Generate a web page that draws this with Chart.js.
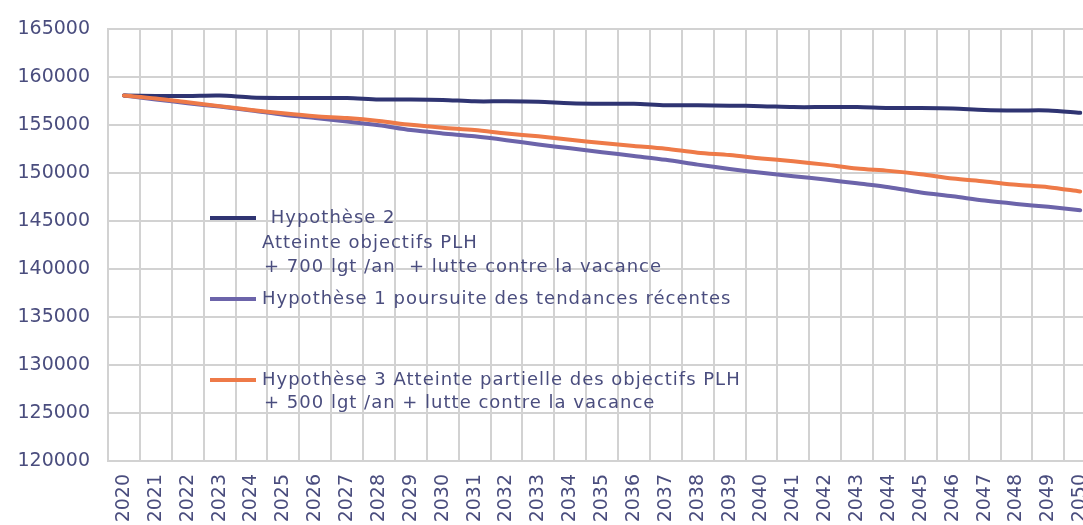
<!DOCTYPE html>
<html>
<head>
<meta charset="utf-8">
<script src="https://cdn.jsdelivr.net/npm/chart.js@4"></script>
<style>
  html, body { margin: 0; padding: 0; background: #fff; overflow: hidden; }
  canvas { display: block; }
</style>
</head>
<body>
<canvas id="proj" width="1116" height="560"></canvas>
<script>
// annees projetees
const years = ['2020','2021','2022','2023','2024','2025','2026','2027','2028','2029','2030',
  '2031','2032','2033','2034','2035','2036','2037','2038','2039','2040',
  '2041','2042','2043','2044','2045','2046','2047','2048','2049','2050'];

// Hypothese 2 : objectifs PLH + 700 lgt/an
const hyp2 = [158100, 158050, 158050, 158100, 157900, 157850, 157850, 157850, 157700, 157700, 157650,
  157500, 157500, 157450, 157300, 157250, 157250, 157100, 157100, 157050, 157000,
  156900, 156900, 156900, 156800, 156800, 156750, 156600, 156550, 156550, 156300];

// Hypothese 1 : tendances recentes
const hyp1 = [158100, 157700, 157300, 156950, 156550, 156100, 155750, 155400, 155000, 154500, 154150,
  153850, 153450, 153000, 152600, 152200, 151800, 151400, 150900, 150450, 150050,
  149700, 149350, 148950, 148550, 148000, 147600, 147150, 146800, 146500, 146150];

// Hypothese 3 : objectifs partiels + 500 lgt/an
const hyp3 = [158100, 157800, 157400, 157000, 156600, 156250, 155950, 155750, 155450, 155050, 154750,
  154500, 154150, 153850, 153500, 153150, 152850, 152550, 152150, 151900, 151550,
  151250, 150900, 150500, 150250, 149900, 149450, 149150, 148800, 148550, 148100];

const label2 = [' Hypothèse 2', 'Atteinte objectifs PLH', '+ 700 lgt /an  + lutte contre la vacance'];
const label1 = ['Hypothèse 1 poursuite des tendances récentes'];
const label3 = ['Hypothèse 3 Atteinte partielle des objectifs PLH', '+ 500 lgt /an + lutte contre la vacance'];

const yMin = 120000, yMax = 165000, yStep = 5000;

const textColor = '#4a4d7e';
const gridColor = '#d2d2d2';
const font = 'DejaVu Sans';

// legende dessinee a la main, dans la zone du graphique
const legendPos = [
  { ds: 1, x: 210, y: 218, tx: 262, lines: [{ dx: 2, dy: 0 }, { dx: 0, dy: 25 }, { dx: 2, dy: 49 }] },
  { ds: 2, x: 210, y: 299, tx: 262, lines: [{ dx: 0, dy: 0 }] },
  { ds: 0, x: 210, y: 380, tx: 262, lines: [{ dx: 0, dy: 0 }, { dx: 2, dy: 23 }] }
];

const legendPlugin = {
  id: 'manualLegend',
  afterDraw(chart) {
    const ctx = chart.ctx;
    ctx.save();
    ctx.font = '18px "' + font + '"';
    ctx.letterSpacing = '1px';
    ctx.fillStyle = textColor;
    ctx.textBaseline = 'middle';
    legendPos.forEach(p => {
      const ds = chart.data.datasets[p.ds];
      ctx.strokeStyle = ds.borderColor;
      ctx.lineWidth = 4;
      ctx.beginPath();
      ctx.moveTo(p.x, p.y);
      ctx.lineTo(p.x + 46, p.y);
      ctx.stroke();
      ds.label.forEach((t, i) => {
        ctx.fillText(t, p.tx + p.lines[i].dx, p.y + p.lines[i].dy);
      });
    });
    ctx.restore();
  }
};

new Chart(document.getElementById('proj'), {
  type: 'line',
  data: {
    labels: years,
    datasets: [
      { label: label3, data: hyp3, borderColor: '#ee7a48', order: 0 },
      { label: label2, data: hyp2, borderColor: '#2f3472', order: 1 },
      { label: label1, data: hyp1, borderColor: '#6c64aa', order: 2 }
    ]
  },
  options: {
    responsive: false,
    animation: false,
    layout: { padding: { top: 18, right: 0, left: 0, bottom: 0 } },
    elements: {
      point: { radius: 0 },
      line: { borderWidth: 4, tension: 0.3, borderCapStyle: 'round' }
    },
    plugins: { legend: { display: false }, tooltip: { enabled: false } },
    scales: {
      x: {
        offset: true,
        grid: { offset: true, color: gridColor, lineWidth: 2, drawTicks: false },
        border: { color: gridColor, width: 2 },
        ticks: {
          color: textColor, font: { family: font, size: 19 },
          minRotation: 90, maxRotation: 90, padding: 13, autoSkip: false
        },
        afterFit(scale) { scale.height = 99; }
      },
      y: {
        min: yMin, max: yMax,
        grid: { color: gridColor, lineWidth: 2, drawTicks: false },
        border: { color: gridColor, width: 2 },
        ticks: {
          stepSize: yStep, color: textColor, padding: 18,
          font: { family: font, size: 19 },
          callback: v => String(v)
        },
        afterFit(scale) { scale.width = 108; }
      }
    }
  },
  plugins: [legendPlugin]
});
</script>
</body>
</html>
